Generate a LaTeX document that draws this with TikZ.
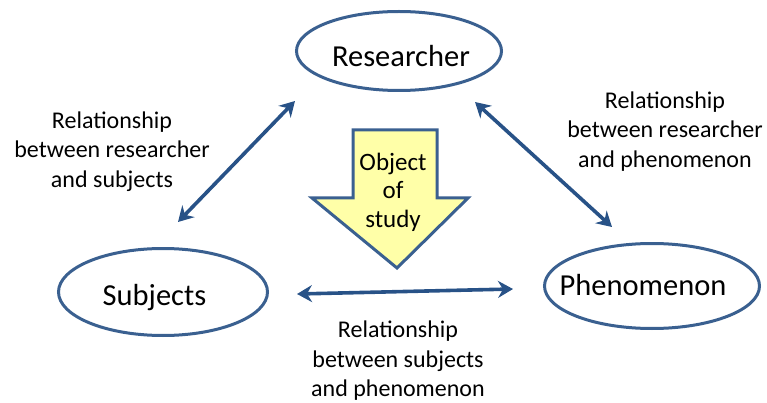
\documentclass[tikz,border=0pt]{standalone}
\usepackage{fontspec}
\setmainfont{Carlito}
\usetikzlibrary{shapes.geometric,arrows.meta}
\definecolor{ringblue}{HTML}{3A6090}
\definecolor{linkblue}{HTML}{285287}
\definecolor{paleyellow}{HTML}{FFFFA8}
\tikzset{
  party/.style={draw=ringblue, line width=3pt, ellipse, inner sep=0pt},
  partyname/.style={anchor=base, inner sep=0pt, font=\fontsize{30.5}{36}\selectfont},
  note/.style={align=center, inner sep=0pt, font=\fontsize{24}{29.5}\selectfont},
  link/.style={draw=linkblue, line width=3.6pt,
    {Stealth[length=15pt,width=17pt,inset=5pt]}-{Stealth[length=15pt,width=17pt,inset=5pt]}},
}
\begin{document}
\begin{tikzpicture}[x=1pt,y=-1pt]
\useasboundingbox (0,0) rectangle (767,403);

% the three parties
\node[party, minimum width=205pt, minimum height=79pt] (res) at (399,51) {};
\node[party, minimum width=209pt, minimum height=87pt] (subj) at (163,292) {};
\node[party, minimum width=215pt, minimum height=85pt] (phen) at (652,286) {};
\node[partyname] (restext) at (401,67) {Researcher};
\node[partyname] (subjtext) at (154.5,305) {Subjects};
\node[partyname] (phentext) at (643,295) {Phenomenon};

% central block arrow
\draw[draw=ringblue, fill=paleyellow, line width=3pt, line join=miter]
  (353,130) -- (437,130) -- (437,198) -- (468,198) -- (397,268)
  -- (312,198) -- (353,198) -- cycle;
\node[align=center, inner sep=0pt, font=\fontsize{25}{28.5}\selectfont] (obj) at (393,192) {Object\\of\\study};

% two-way relationships
\coordinate (rs1) at (295,101);
\coordinate (rs2) at (178,222);
\coordinate (rp1) at (475,102);
\coordinate (rp2) at (612,227);
\coordinate (sp1) at (297,294);
\coordinate (sp2) at (513,289);
\draw[link] (rs1) -- (rs2);
\draw[link] (rp1) -- (rp2);
\draw[link] (sp1) -- (sp2);

% relationship captions
\node[note] (lrs) at (112,151.5) {Relationship\\between researcher\\and subjects};
\node[note] (lrp) at (665,131.5) {Relationship\\between researcher\\and phenomenon};
\node[note] (lsp) at (398,361) {Relationship\\between subjects\\and phenomenon};
\end{tikzpicture}
\end{document}
